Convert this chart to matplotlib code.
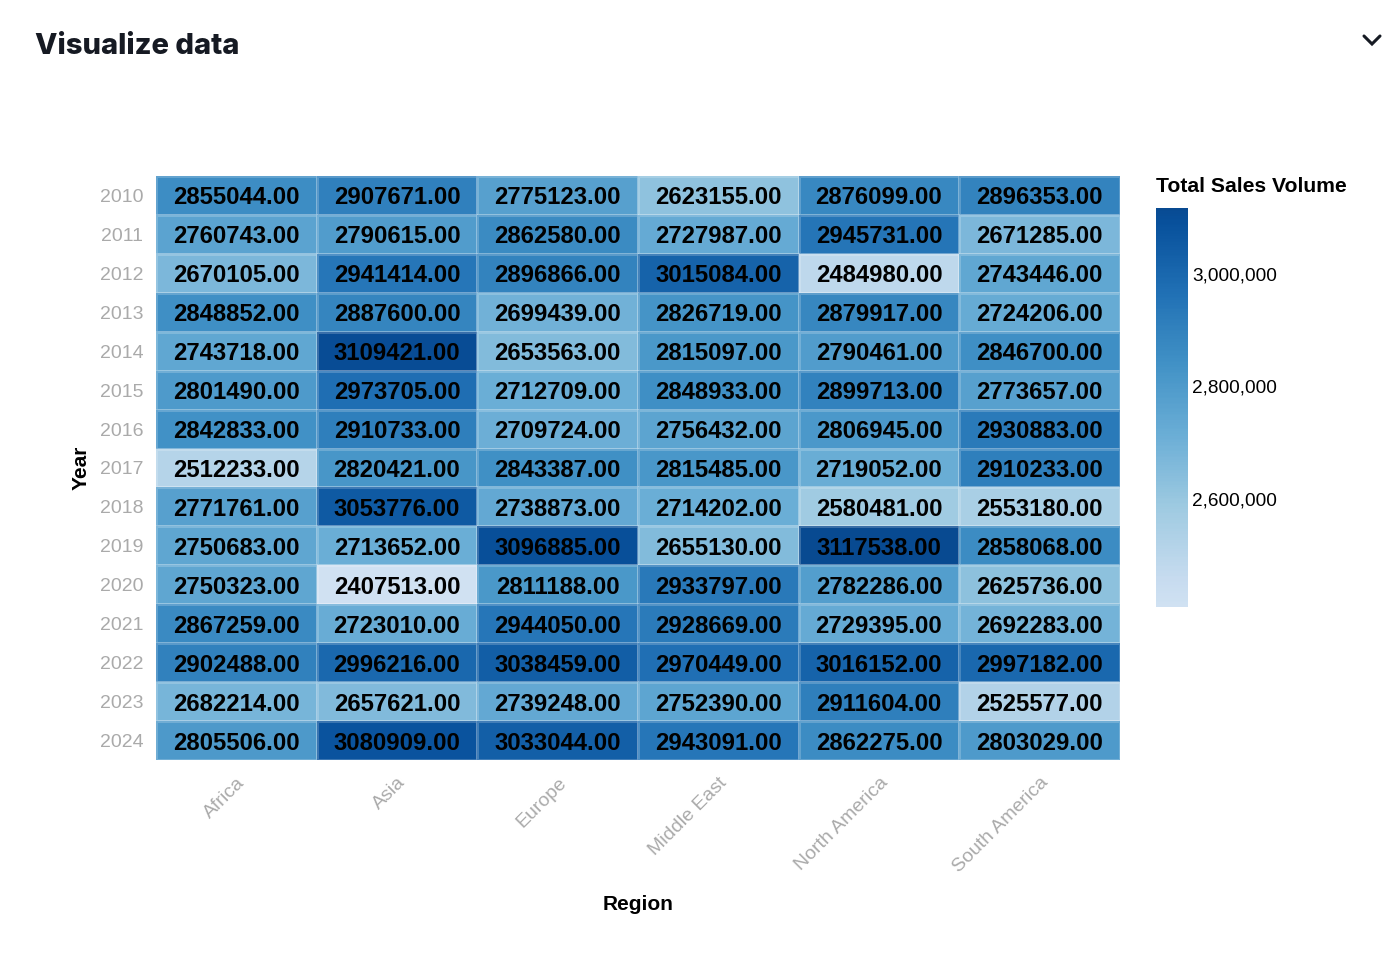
import numpy as np
import matplotlib
matplotlib.use("Agg")
import matplotlib.pyplot as plt
from matplotlib.colors import LinearSegmentedColormap, Normalize
from matplotlib.transforms import ScaledTranslation
from matplotlib.ticker import FuncFormatter

years = [2010, 2011, 2012, 2013, 2014, 2015, 2016, 2017, 2018, 2019, 2020, 2021, 2022, 2023, 2024]
regions = ["Africa", "Asia", "Europe", "Middle East", "North America", "South America"]

africa = [2855044, 2760743, 2670105, 2848852, 2743718, 2801490, 2842833, 2512233, 2771761, 2750683, 2750323, 2867259, 2902488, 2682214, 2805506]
asia = [2907671, 2790615, 2941414, 2887600, 3109421, 2973705, 2910733, 2820421, 3053776, 2713652, 2407513, 2723010, 2996216, 2657621, 3080909]
europe = [2775123, 2862580, 2896866, 2699439, 2653563, 2712709, 2709724, 2843387, 2738873, 3096885, 2811188, 2944050, 3038459, 2739248, 3033044]
middle_east = [2623155, 2727987, 3015084, 2826719, 2815097, 2848933, 2756432, 2815485, 2714202, 2655130, 2933797, 2928669, 2970449, 2752390, 2943091]
north_america = [2876099, 2945731, 2484980, 2879917, 2790461, 2899713, 2806945, 2719052, 2580481, 3117538, 2782286, 2729395, 3016152, 2911604, 2862275]
south_america = [2896353, 2671285, 2743446, 2724206, 2846700, 2773657, 2930883, 2910233, 2553180, 2858068, 2625736, 2692283, 2997182, 2525577, 2803029]
colorbar_ticks = [2600000, 2800000, 3000000]

data = np.array([africa, asia, europe, middle_east, north_america, south_america], dtype=float).T

cmap = LinearSegmentedColormap.from_list("blues_t", plt.cm.Blues(np.linspace(0.2, 0.9, 256)))
norm = Normalize(vmin=data.min(), vmax=data.max())

plt.rcParams['font.family'] = ['Liberation Sans', 'DejaVu Sans']

fig = plt.figure(figsize=(14, 9.64), dpi=100)
ax = fig.add_axes([156/1400, 1-760/964, (1120-156)/1400, (760-176)/964])

ax.pcolormesh(np.arange(len(regions)+1), np.arange(len(years)+1), data, cmap=cmap, norm=norm,
              edgecolor=(1, 1, 1, 0.2), linewidth=0.8)
ax.set_xlim(0, len(regions))
ax.set_ylim(len(years), 0)

for i in range(len(years)):
    for j in range(len(regions)):
        ax.text(j + 0.5, i + 0.5, f"{data[i, j]:.2f}", ha='center', va='center_baseline',
                fontsize=17.2, fontweight='bold', color='black')

for s in ax.spines.values():
    s.set_visible(False)

ax.set_yticks(np.arange(len(years)) + 0.5)
ax.set_yticklabels([str(y) for y in years], fontsize=14, color='#aaaaaa')
ax.set_xticks(np.arange(len(regions)) + 0.5)
ax.set_xticklabels(regions, fontsize=14, color='#aaaaaa', rotation=45,
                   ha='right', va='top', rotation_mode='anchor')
off = ScaledTranslation(12/100, 0, fig.dpi_scale_trans)
for lbl in ax.get_xticklabels():
    lbl.set_transform(lbl.get_transform() + off)
ax.tick_params(axis='both', length=0)
ax.tick_params(axis='y', pad=9)
ax.tick_params(axis='x', pad=10)

ax.set_xlabel("Region", fontsize=15, fontweight='bold', labelpad=14)
ax.set_ylabel("Year", fontsize=15, fontweight='bold', labelpad=7)

cax = fig.add_axes([1156/1400, 1-607/964, 32/1400, (607-208)/964])
sm = plt.cm.ScalarMappable(norm=norm, cmap=cmap)
cb = fig.colorbar(sm, cax=cax, ticks=colorbar_ticks)
cb.outline.set_visible(False)
cax.tick_params(length=0, labelsize=13.7, pad=3)
cax.yaxis.set_major_formatter(FuncFormatter(lambda v, p: f"{int(round(v)):,}"))
fig.text(1156/1400, 1-187/964, "Total Sales Volume", fontsize=15.2, fontweight='bold',
         ha='left', va='center')

fig.text(35/1400, 1-46/964, "Visualize data", fontsize=21, fontweight='heavy',
         family=['Inter', 'DejaVu Sans'], color='#161a23', ha='left', va='center')

# chevron
fig.add_artist(plt.Line2D([1364/1400, 1372/1400, 1380/1400], [1-36/964, 1-44/964, 1-36/964],
                          transform=fig.transFigure, color='#161a23', linewidth=2.2,
                          solid_capstyle='round', solid_joinstyle='miter'))

fig.savefig("out.png", dpi=100, facecolor='white')
